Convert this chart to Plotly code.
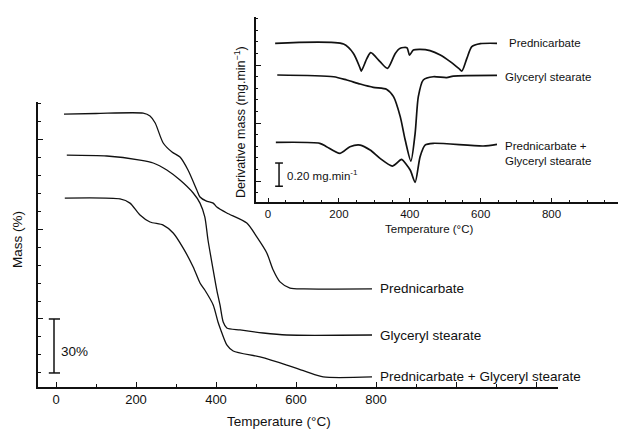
import plotly.graph_objects as go

# Browser page has an 8px body margin; the figure is sized to fill the rest of the 626x430 window.
PAGE_W, PAGE_H, OFF = 626, 430, 8
W, H = PAGE_W - OFF, PAGE_H - OFF

# ---------------- Main TGA data (mass %, vertically offset traces) ----------------
pred_T = [20, 100, 218, 235, 248, 268, 290, 310, 330, 352, 360, 375, 393, 402, 427, 477, 502, 527, 543, 560, 585, 620, 790]
pred_M = [113.9, 114.2, 114.4, 112.8, 108.9, 97.8, 92.8, 90.0, 82.8, 71.7, 67.8, 65.6, 64.4, 62.2, 58.9, 53.3, 45.6, 36.7, 27.2, 20.6, 17.2, 16.7, 16.7]

gly_T = [27, 127, 210, 243, 277, 310, 343, 360, 372, 380, 393, 402, 410, 418, 427, 460, 518, 577, 790]
gly_M = [91.1, 90.6, 88.3, 86.7, 82.8, 77.2, 70.0, 64.4, 56.7, 43.9, 27.2, 16.1, 7.8, -1.7, -5.0, -6.1, -7.8, -8.9, -8.9]

mix_T = [22, 160, 185, 210, 235, 268, 293, 318, 343, 360, 372, 393, 405, 412, 427, 443, 510, 577, 627, 668, 790]
mix_M = [67.2, 66.7, 64.4, 57.8, 53.9, 52.2, 47.8, 39.4, 28.9, 20.0, 16.1, 7.8, -1.7, -6.1, -14.4, -17.8, -21.1, -25.6, -29.4, -32.2, -32.2]

# ---------------- Inset DTG data ----------------
dpred_T = [20, 213, 241, 260, 263, 279, 290, 316, 337, 359, 373, 392, 399, 410, 429, 457, 486, 514, 538, 547, 561, 575, 599, 646]
dpred_D = [1.187, 1.181, 1.10, 0.971, 0.948, 1.057, 1.106, 1.029, 0.971, 1.10, 1.144, 1.149, 1.086, 1.129, 1.135, 1.124, 1.086, 1.029, 0.971, 0.948, 1.057, 1.158, 1.184, 1.187]

dgly_T = [26, 185, 222, 260, 297, 335, 354, 373, 387, 403, 415, 424, 438, 466, 504, 523, 646]
dgly_D = [0.914, 0.899, 0.871, 0.836, 0.807, 0.790, 0.727, 0.555, 0.353, 0.172, 0.411, 0.727, 0.871, 0.899, 0.891, 0.905, 0.911]

dmix_T = [22, 146, 165, 203, 231, 260, 288, 316, 351, 373, 377, 401, 415, 429, 443, 466, 607, 646]
dmix_D = [0.333, 0.325, 0.296, 0.239, 0.296, 0.310, 0.267, 0.195, 0.129, 0.181, 0.187, 0.095, -0.011, 0.210, 0.310, 0.325, 0.302, 0.316]

series_names = ["Prednicarbate", "Glyceryl stearate", "Prednicarbate + Glyceryl stearate"]
main_ticks = [0, 200, 400, 600, 800]
main_unlabeled_ticks = [1000, 1200]
inset_ticks = [0, 200, 400, 600, 800]

FONT = "Liberation Sans, Arial, Helvetica, sans-serif"
LC = "#111111"
MAIN_FS = 13.5
INSET_FS = 11.5

def px_x(p):
    return (p - OFF) / W

def px_y(p):
    return 1 - (p - OFF) / H

fig = go.Figure()

for T, M in [(pred_T, pred_M), (gly_T, gly_M), (mix_T, mix_M)]:
    fig.add_trace(go.Scatter(x=T, y=M, mode="lines", xaxis="x", yaxis="y",
                             line=dict(color=LC, width=1.3, shape="spline", smoothing=0.7),
                             showlegend=False, hoverinfo="skip"))

for T, D in [(dpred_T, dpred_D), (dgly_T, dgly_D), (dmix_T, dmix_D)]:
    fig.add_trace(go.Scatter(x=T, y=D, mode="lines", xaxis="x2", yaxis="y2",
                             line=dict(color=LC, width=1.7, shape="spline", smoothing=0.7),
                             showlegend=False, hoverinfo="skip"))

# invisible trace carrying the unlabeled major ticks at 1000 and 1200
fig.add_trace(go.Scatter(x=main_unlabeled_ticks, y=[0, 0], mode="markers", xaxis="x3", yaxis="y",
                         marker=dict(opacity=0), showlegend=False, hoverinfo="skip"))

# series labels (main)
main_label_y = [pred_M[-1], gly_M[-1], mix_M[-1]]
for name, yv in zip(series_names, main_label_y):
    fig.add_annotation(x=806, y=yv, xref="x", yref="y", text=name, showarrow=False,
                       xanchor="left", yanchor="middle", font=dict(family=FONT, size=MAIN_FS, color=LC))

# series labels (inset)
fig.add_annotation(x=673, y=dpred_D[-1], xref="x2", yref="y2", text="Prednicarbate", showarrow=False,
                   xanchor="left", yanchor="middle", font=dict(family=FONT, size=INSET_FS, color=LC))
fig.add_annotation(x=662, y=dgly_D[-1] - 0.01, xref="x2", yref="y2", text="Glyceryl stearate", showarrow=False,
                   xanchor="left", yanchor="middle", font=dict(family=FONT, size=INSET_FS, color=LC))
fig.add_annotation(x=662, y=0.241, xref="x2", yref="y2", text="Prednicarbate +<br>Glyceryl stearate",
                   showarrow=False, xanchor="left", yanchor="middle", align="left",
                   font=dict(family=FONT, size=INSET_FS, color=LC))

# scale bars
sb = dict(color=LC, width=1.5)
fig.add_shape(type="line", xref="x", yref="y", x0=-5, x1=-5, y0=0, y1=-30, line=sb)
fig.add_shape(type="line", xref="x", yref="y", x0=-18, x1=10, y0=0, y1=0, line=sb)
fig.add_shape(type="line", xref="x", yref="y", x0=-18, x1=10, y0=-30, y1=-30, line=sb)
fig.add_annotation(x=8, y=-18, xref="x", yref="y", text="30%", showarrow=False, xanchor="left",
                   yanchor="middle", font=dict(family=FONT, size=MAIN_FS, color=LC))

fig.add_shape(type="line", xref="x2", yref="y2", x0=31, x1=31, y0=0.155, y1=-0.045, line=sb)
fig.add_shape(type="line", xref="x2", yref="y2", x0=20, x1=42, y0=0.155, y1=0.155, line=sb)
fig.add_shape(type="line", xref="x2", yref="y2", x0=20, x1=42, y0=-0.045, y1=-0.045, line=sb)
fig.add_annotation(x=48, y=0.052, xref="x2", yref="y2", text="0.20 mg.min<sup>-1</sup>", showarrow=False,
                   xanchor="left", yanchor="middle", font=dict(family=FONT, size=INSET_FS, color=LC))

# axis titles
fig.add_annotation(x=px_x(279), y=px_y(421), xref="paper", yref="paper", text="Temperature (°C)",
                   showarrow=False, xanchor="center", yanchor="middle", font=dict(family=FONT, size=MAIN_FS, color=LC))
fig.add_annotation(x=px_x(17), y=px_y(240), xref="paper", yref="paper", text="Mass (%)", textangle=-90,
                   showarrow=False, xanchor="center", yanchor="middle", font=dict(family=FONT, size=MAIN_FS, color=LC))
fig.add_annotation(x=px_x(429), y=px_y(229), xref="paper", yref="paper", text="Temperature (°C)",
                   showarrow=False, xanchor="center", yanchor="middle", font=dict(family=FONT, size=INSET_FS, color=LC))
fig.add_annotation(x=px_x(240), y=px_y(122), xref="paper", yref="paper",
                   text="Derivative mass (mg.min<sup>−1</sup>)", textangle=-90,
                   showarrow=False, xanchor="center", yanchor="middle", font=dict(family=FONT, size=12.5, color=LC))

axis_common = dict(showgrid=False, zeroline=False, showline=True, linecolor=LC, linewidth=1.5,
                   ticks="inside", tickcolor=LC, mirror=False)

main_xdomain = [px_x(38), px_x(558)]
main_xrange = [-45, 1255]

fig.update_layout(
    width=W, height=H,
    margin=dict(l=0, r=0, t=0, b=0),
    paper_bgcolor="white", plot_bgcolor="rgba(0,0,0,0)",
    font=dict(family=FONT, color=LC),
    xaxis=dict(**axis_common, domain=main_xdomain, range=main_xrange, anchor="y",
               tickmode="array", tickvals=main_ticks, ticklen=5, tickwidth=1.3,
               tickfont=dict(family=FONT, size=13, color=LC),
               minor=dict(dtick=100, tick0=0, ticks="inside", ticklen=3, tickcolor=LC, tickwidth=1.3)),
    xaxis3=dict(showgrid=False, zeroline=False, showline=False, domain=main_xdomain, range=main_xrange,
                anchor="y", overlaying="x", tickmode="array", tickvals=main_unlabeled_ticks,
                ticks="inside", ticklen=5, tickwidth=1.3, tickcolor=LC, showticklabels=False),
    yaxis=dict(**axis_common, domain=[px_y(387), px_y(102)], range=[-37.8, 120.6], anchor="x",
               tickmode="linear", tick0=0, dtick=50, ticklen=5, tickwidth=1.3, showticklabels=False,
               minor=dict(dtick=10, tick0=0, ticks="inside", ticklen=3, tickcolor=LC, tickwidth=1.3)),
    xaxis2=dict(**axis_common, domain=[px_x(256), 1.0], range=[-34, 1010], anchor="y2",
                tickmode="array", tickvals=inset_ticks, ticklen=4, tickwidth=1.2,
                tickfont=dict(family=FONT, size=INSET_FS, color=LC),
                minor=dict(dtick=50, tick0=0, ticks="inside", ticklen=2.5, tickcolor=LC, tickwidth=1.2)),
    yaxis2=dict(**axis_common, domain=[px_y(202), px_y(17)], range=[-0.181, 1.414], anchor="x2",
                tickmode="linear", tick0=0, dtick=0.5, ticklen=5, tickwidth=1.2, showticklabels=False,
                minor=dict(dtick=0.1, tick0=0, ticks="inside", ticklen=2.5, tickcolor=LC, tickwidth=1.2)),
)

fig.write_html("out.html")
